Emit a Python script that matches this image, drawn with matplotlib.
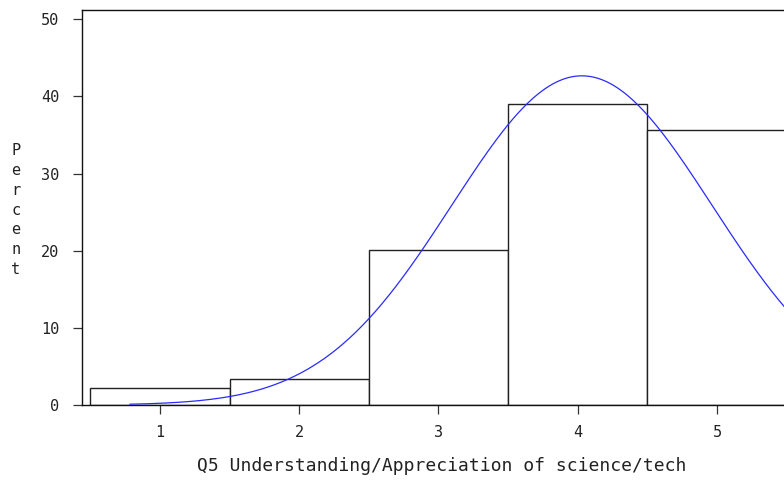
import numpy as np
import matplotlib
matplotlib.use("Agg")
import matplotlib.pyplot as plt

# ---- data ----
categories = [1, 2, 3, 4, 5]
percent = [2.16, 3.33, 20.08, 39.08, 35.66]
x_ticks = [1, 2, 3, 4, 5]
y_ticks = [0, 10, 20, 30, 40, 50]
x_label = "Q5 Understanding/Appreciation of science/tech"
y_label = "Percent"
# fitted normal curve parameters (as drawn in the reference)
fit_mu = 4.03
fit_sigma = 0.935
curve_start = 0.785
curve_end = 5.7
bin_width = 1.0

plt.rcParams['font.family'] = ['DejaVu Sans Mono', 'DejaVu Sans']

fig = plt.figure(figsize=(7.84, 4.87), dpi=100)
W, H = 784, 487
left_px, right_px, top_px, bottom_px = 82, 800.5, 10, 405
ax = fig.add_axes([left_px / W, (H - bottom_px) / H,
                   (right_px - left_px) / W, (bottom_px - top_px) / H])

ax.bar(categories, percent, width=bin_width, facecolor='white',
       edgecolor='#222222', linewidth=1.0, zorder=2)

xs = np.linspace(curve_start, curve_end, 400)
ys = 100 * bin_width / (fit_sigma * np.sqrt(2 * np.pi)) * np.exp(-0.5 * ((xs - fit_mu) / fit_sigma) ** 2)
ax.plot(xs, ys, color='#2a2aff', linewidth=0.9, zorder=3)

ax.set_xlim(0.44, 5.6)
ax.set_ylim(0, 51.2)
ax.set_xticks(x_ticks)
ax.set_yticks(y_ticks)
ax.tick_params(axis='both', direction='out', length=6.5, width=0.9,
               color='#333333', labelsize=11, labelcolor='#222222')
ax.tick_params(axis='x', pad=8)
ax.tick_params(axis='y', pad=10)
for s in ax.spines.values():
    s.set_linewidth(1.0)
    s.set_color('#111111')

ax.set_xlabel(x_label, fontsize=13, color='#222222', labelpad=12)
fig.text(16 / W, 1 - 210 / H, "\n".join(y_label), fontsize=11, color='#222222',
         ha='center', va='center', linespacing=1.4)

fig.savefig("out.png", dpi=100)
